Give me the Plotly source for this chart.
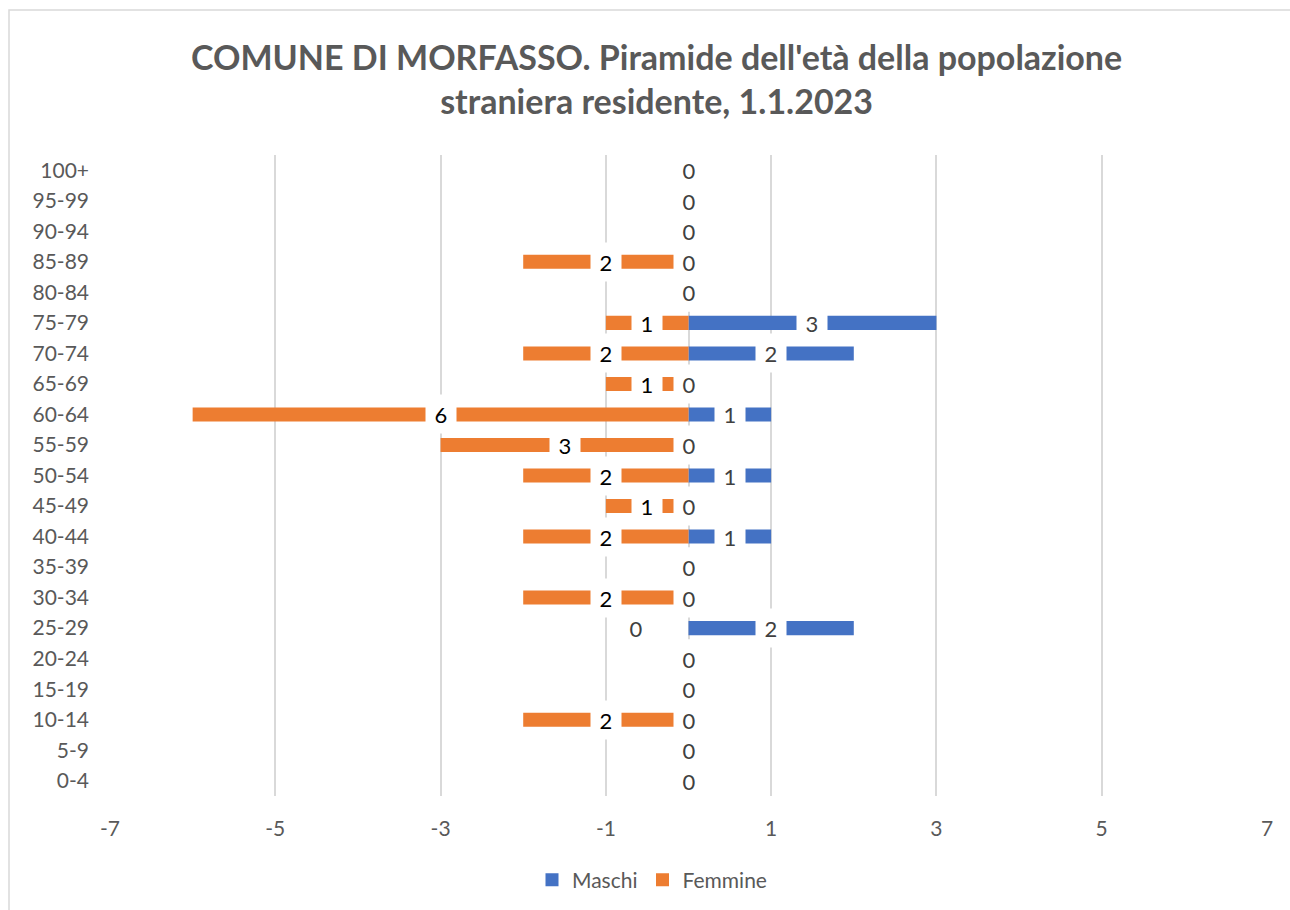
import plotly.graph_objects as go

categories = ["0-4", "5-9", "10-14", "15-19", "20-24", "25-29", "30-34", "35-39",
              "40-44", "45-49", "50-54", "55-59", "60-64", "65-69", "70-74",
              "75-79", "80-84", "85-89", "90-94", "95-99", "100+"]
maschi = [0, 0, 0, 0, 0, 2, 0, 0, 1, 0, 1, 0, 1, 0, 2, 3, 0, 0, 0, 0, 0]
femmine = [0, 0, 2, 0, 0, 0, 2, 0, 2, 1, 2, 3, 6, 1, 2, 1, 0, 2, 0, 0, 0]
x_ticks = [-7, -5, -3, -1, 1, 3, 5, 7]

title_text = "COMUNE DI MORFASSO. Piramide dell'età della popolazione<br>straniera residente, 1.1.2023"

FONT = "Lato"
BLUE = "#4472C4"
ORANGE = "#ED7D31"
GRID = "#D9D9D9"
TXT = "#595959"

W, H = 1290, 910
L, R, T, B = 110, 23, 155, 114
PW, PH = W - L - R, H - T - B


def px_x(p):
    return (p - L) / PW


def px_y(p):
    return (H - B - p) / PH


fig = go.Figure()
fig.add_trace(go.Bar(
    y=categories, x=maschi, orientation="h", name="Maschi",
    marker=dict(color=BLUE, line=dict(width=0)), width=0.46,
    hoverinfo="skip", showlegend=False))
fig.add_trace(go.Bar(
    y=categories, x=[-v for v in femmine], orientation="h", name="Femmine",
    marker=dict(color=ORANGE, line=dict(width=0)), width=0.46,
    hoverinfo="skip", showlegend=False))

# legend entries (square markers like Excel)
for nm, col in (("Maschi", BLUE), ("Femmine", ORANGE)):
    fig.add_trace(go.Scatter(
        x=[None], y=[None], mode="markers", name=nm,
        marker=dict(symbol="square", size=13, color=col, line=dict(width=0)),
        hoverinfo="skip", showlegend=True))

annotations = []


def label(x, y, text, color):
    annotations.append(dict(
        x=x, y=y, xref="x", yref="y", text=text, showarrow=False,
        font=dict(family=FONT, size=22, color=color),
        bgcolor="white", width=30, height=38, borderpad=0,
        xanchor="center", yanchor="middle"))


for cat, m, f in zip(categories, maschi, femmine):
    if f > 0:
        label(-f / 2, cat, str(f), "#000000")
    elif m > 0:
        label(-0.63, cat, "0", "#404040")
    else:
        label(0, cat, "0", "#404040")
    if m > 0:
        label(m / 2, cat, str(m), "#404040")
    else:
        label(0, cat, "0", "#404040")

# title
annotations.append(dict(
    x=px_x(656), y=px_y(79), xref="paper", yref="paper", text="<b>" + title_text + "</b>",
    showarrow=False, xanchor="center", yanchor="middle", align="center",
    font=dict(family=FONT, size=34, color=TXT)))

# chart-area border
shapes = [dict(
    type="rect", xref="paper", yref="paper",
    x0=px_x(9), x1=px_x(W + 10), y0=px_y(H + 10), y1=px_y(10),
    line=dict(color=GRID, width=1.5), fillcolor="rgba(0,0,0,0)", layer="below")]

fig.update_layout(
    width=W, height=H,
    margin=dict(l=L, r=R, t=T, b=B, autoexpand=False),
    paper_bgcolor="white", plot_bgcolor="white",
    barmode="overlay",
    xaxis=dict(range=[-7, 7], tickvals=x_ticks, ticktext=[str(v) for v in x_ticks],
               showgrid=True, gridcolor=GRID, gridwidth=1.5,
               zeroline=True, zerolinecolor=GRID, zerolinewidth=1.5,
               showline=False, ticks="", ticklabelstandoff=18,
               tickfont=dict(family=FONT, size=21, color=TXT), fixedrange=True),
    yaxis=dict(type="category", categoryorder="array", categoryarray=categories,
               range=[-0.5, len(categories) - 0.5], showgrid=False, zeroline=False,
               showline=False, ticks="", ticklabelstandoff=20,
               tickfont=dict(family=FONT, size=21, color=TXT), fixedrange=True),
    legend=dict(orientation="h", x=px_x(652), xanchor="center",
                y=px_y(880), yanchor="middle", itemwidth=30,
                font=dict(family=FONT, size=21, color=TXT),
                traceorder="normal"),
    annotations=annotations,
    shapes=shapes,
    showlegend=True,
)

fig.write_html("out.html", config={"displayModeBar": False},
               post_script="document.body.style.margin='0';document.body.style.overflow='hidden';")
